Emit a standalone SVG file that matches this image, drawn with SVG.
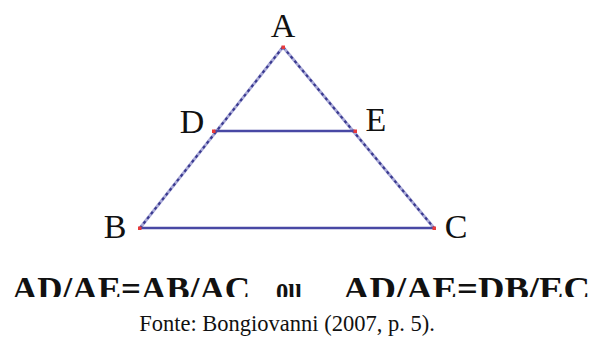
<svg xmlns="http://www.w3.org/2000/svg" width="592" height="339" viewBox="0 0 592 339">
<style>
.lbl{font-size:34px;fill:#111}
.frm{font-size:33px;font-weight:bold;fill:#111}
.cap{font-size:22.5px;fill:#111}
.base{stroke:#aaaad8;stroke-width:3;fill:none}
.dash{stroke:#3a3a90;stroke-width:2.2;stroke-dasharray:3 3;fill:none}
.h{stroke:#4848a4;stroke-width:2.5;fill:none}
.pt{fill:#e83a3a}
</style>
<defs>
<clipPath id="cut"><rect x="0" y="0" width="592" height="297"/></clipPath>
</defs>
<rect width="592" height="339" fill="#fff"/>
<g id="connectors">
<line class="base" x1="283" y1="47" x2="140" y2="228"/>
<line class="dash" x1="283" y1="47" x2="140" y2="228"/>
<line class="base" x1="283" y1="47" x2="434" y2="228"/>
<line class="dash" x1="283" y1="47" x2="434" y2="228"/>
<line class="h" x1="214" y1="131" x2="355" y2="131"/>
<line class="h" x1="140" y1="228" x2="434" y2="228"/>
</g>
<g font-family="Liberation Serif, DejaVu Serif, serif">
<g id="A"><rect class="pt" x="281.5" y="45.5" width="3.5" height="3.5"/><text class="lbl" x="283" y="37" text-anchor="middle">A</text></g>
<g id="D"><rect class="pt" x="212" y="129.5" width="3.5" height="3.5"/><text class="lbl" x="192" y="133" text-anchor="middle">D</text></g>
<g id="E"><rect class="pt" x="353.5" y="129.5" width="3.5" height="3.5"/><text class="lbl" x="376" y="131" text-anchor="middle">E</text></g>
<g id="B"><rect class="pt" x="138" y="226.5" width="3.5" height="3.5"/><text class="lbl" x="115" y="238" text-anchor="middle">B</text></g>
<g id="C"><rect class="pt" x="432.5" y="226.5" width="3.5" height="3.5"/><text class="lbl" x="456" y="238" text-anchor="middle">C</text></g>
<g clip-path="url(#cut)">
<text class="frm" x="12" y="300" textLength="238" lengthAdjust="spacingAndGlyphs">AD/AE=AB/AC</text>
<text class="frm" x="276" y="300" textLength="26" lengthAdjust="spacingAndGlyphs">ou</text>
<text class="frm" x="343" y="300" textLength="247" lengthAdjust="spacingAndGlyphs">AD/AE=DB/EC</text>
</g>
<text class="cap" x="287" y="331" text-anchor="middle">Fonte: Bongiovanni (2007, p. 5).</text>
</g>
</svg>
